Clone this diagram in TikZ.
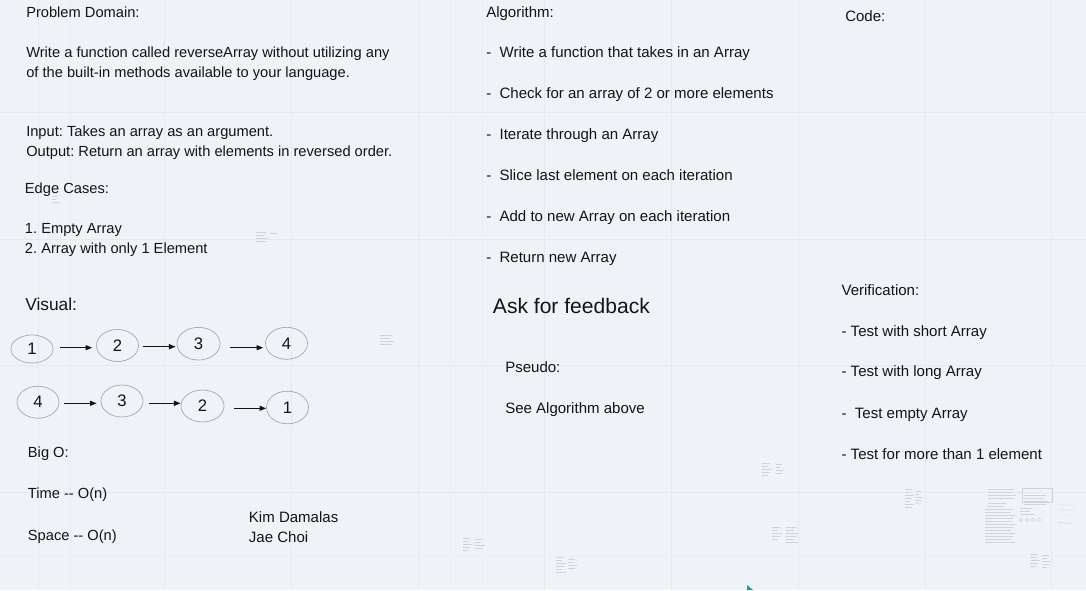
\documentclass[tikz,border=0pt]{standalone}
\usepackage{fontspec}
\setmainfont{Liberation Sans}
\usetikzlibrary{shapes.geometric,arrows.meta,calc}
\definecolor{bgc}{RGB}{239,242,247}
\definecolor{gridc}{RGB}{229,233,239}
\definecolor{gridm}{RGB}{234,237,243}
\definecolor{ink}{RGB}{20,20,20}
\definecolor{ellc}{RGB}{165,165,168}
\definecolor{smudgec}{RGB}{207,211,218}
\definecolor{cursorc}{RGB}{20,160,150}
\tikzset{
  txt/.style={anchor=base west, inner sep=0pt, text=ink, font=\fontsize{11pt}{13pt}\selectfont\frenchspacing},
  txtb/.style={txt, font=\fontsize{11.27pt}{13pt}\selectfont\frenchspacing},
  bigtxt/.style={txt, font=\fontsize{13pt}{15pt}\selectfont\frenchspacing},
  hugetxt/.style={txt, font=\fontsize{15.8pt}{18pt}\selectfont\frenchspacing},
  cell/.style={ellipse, draw=ellc, line width=0.5pt, inner sep=0pt, minimum width=31.5pt, minimum height=24pt, text=ink, font=\fontsize{12.5pt}{14pt}\selectfont},
  arr/.style={draw=ink, line width=0.8pt, -{Triangle[length=5pt,width=3.8pt]}},
  gridline/.style={draw=gridc, line width=0.6pt},
  minorline/.style={draw=gridm, line width=0.5pt},
  smudge/.style={draw=smudgec, line width=0.35pt},
}
\begin{document}
\begin{tikzpicture}[x=0.75pt,y=-0.75pt]
\useasboundingbox (0,0) rectangle (1086,590);
\fill[bgc] (0,0) rectangle (1086,590);
% grid
\foreach \gx in {70,450,482} { \draw[minorline] (\gx,0) -- (\gx,590); }
\draw[minorline] (0,556) -- (1086,556);
\foreach \gx in {38,164.7,291.4,418.1,544.8,671.5,798.2,924.9,1051.6} { \draw[gridline] (\gx,0) -- (\gx,590); }
\foreach \gy in {112.5,239,365.5,492} { \draw[gridline] (0,\gy) -- (1086,\gy); }

% faint thumbnails
\foreach \sx/\sy/\sw/\sn in {52/193/8/3, 256/229/12/4, 270/230/9/1, 380/332/14/4, 762/460/10/5, 776/461/8/4, 905/486/9/7, 916/488/7/5, 772/524/10/5, 786/524/12/6, 463/535/9/5, 475/536/10/4, 556/554/10/6, 568/556/9/4, 988/486/28/4, 988/500/20/2, 985/506/30/12, 1030/551/10/5, 1042/552/9/5, 1024/492/24/4, 1020/505/14/3}
{ \foreach \i in {1,...,\sn} { \draw[smudge] (\sx,{\sy+3*\i}) -- ++({\sw-mod(\i,3)*2},0); } }
\draw[smudge] (1022,488) rectangle (1052,502);
\foreach \cx in {1021,1027,1033,1039} { \draw[smudge] (\cx,520) circle (1.8); }
\draw[smudge] (1058,505) -- (1075,505) (1060,510) -- (1073,510) (1062,515) -- (1071,515) (1058,522) -- (1072,524);
\fill[cursorc] (747,585) -- (747,590) -- (753,590) -- cycle;

% left column texts
\node[txt] (pd)  at (26,17.5)  {Problem Domain:};
\node[txt] (pd1) at (26,57.3)  {Write a function called reverseArray without utilizing any};
\node[txt] (pd2) at (26,77.3)  {of the built-in methods available to your language.};
\node[txt] (inp) at (26,136.7) {Input: Takes an array as an argument.};
\node[txt] (outp) at (26,156.7) {Output: Return an array with elements in reversed order.};
\node[txt] (edge) at (24.7,193.3) {Edge Cases:};
\node[txt] (ec1) at (24.7,233.3) {1. Empty Array};
\node[txt] (ec2) at (24.7,253.3) {2. Array with only 1 Element};
\node[bigtxt] (vis) at (25,310) {Visual:};
\node[txt] (bigo) at (27.7,457.3) {Big O:};
\node[txt] (time) at (27.7,498.3) {Time -{}- O(n)};
\node[txt] (spc) at (27.7,540) {Space -{}- O(n)};
\node[txtb] (kim) at (248.7,522.3) {Kim Damalas};
\node[txtb] (jae) at (248.7,542.3) {Jae Choi};

% algorithm column
\node[txtb] (alg) at (486,17) {Algorithm:};
\node[txtb] (s1) at (486,57.3)  {-\ \ Write a function that takes in an Array};
\node[txtb] (s2) at (486,98.3)  {-\ \ Check for an array of 2 or more elements};
\node[txtb] (s3) at (486,139.3) {-\ \ Iterate through an Array};
\node[txtb] (s4) at (486,180)   {-\ \ Slice last element on each iteration};
\node[txtb] (s5) at (486,221.3) {-\ \ Add to new Array on each iteration};
\node[txtb] (s6) at (486,262.3) {-\ \ Return new Array};
\node[hugetxt] (ask) at (492.7,313.3) {Ask for feedback};
\node[txtb] (pseudo) at (505,372.3) {Pseudo:};
\node[txtb] (see) at (505,413.3) {See Algorithm above};

% right column
\node[txtb] (code) at (845,21) {Code:};
\node[txtb] (ver) at (841.3,295) {Verification:};
\node[txtb] (v1) at (841.3,336)   {- Test with short Array};
\node[txtb] (v2) at (841.3,376.7) {- Test with long Array};
\node[txtb] (v3) at (841.3,418.3) {-\ \ Test empty Array};
\node[txtb] (v4) at (841.3,459)   {- Test for more than 1 element};

% visual: first row
\node[cell, minimum height=21pt] (e1) at (32,349) {1};
\node[cell] (e2) at (117.5,345.5) {2};
\node[cell, minimum width=32.3pt, minimum height=24.5pt] (e3) at (198.5,343.7) {3};
\node[cell] (e4) at (286.5,343.3) {4};
% second row
\node[cell] (f1) at (38,402.2) {4};
\node[cell] (f2) at (122,401) {3};
\node[cell, minimum width=32.3pt] (f3) at (202.5,406) {2};
\node[cell, minimum height=24.5pt] (f4) at (287.5,407.5) {1};

\coordinate (a1s) at ($(e1.east)+(7,-1.3)$);
\coordinate (a1e) at ($(e2.west)+(-4,0)$);
\draw[arr] (a1s) -- (a1s -| a1e);
\coordinate (a2s) at ($(e2.east)+(4,1.2)$);
\coordinate (a2e) at ($(e3.west)+(-1,0)$);
\draw[arr] (a2s) -- (a2s -| a2e);
\coordinate (a3s) at ($(e3.east)+(10,4.0)$);
\coordinate (a3e) at ($(e4.west)+(-2,0)$);
\draw[arr] (a3s) -- (a3s -| a3e);

\coordinate (b1s) at ($(f1.east)+(5,1.1)$);
\coordinate (b1e) at ($(f2.west)+(-4,0)$);
\draw[arr] (b1s) -- (b1s -| b1e);
\coordinate (b2s) at ($(f2.east)+(6,2.3)$);
\coordinate (b2e) at ($(f3.west)+(0,0)$);
\draw[arr] (b2s) -- (b2s -| b2e);
\coordinate (b3s) at ($(f3.east)+(10,2.3)$);
\coordinate (b3e) at ($(f4.west)+(0,0)$);
\draw[arr] (b3s) -- (b3s -| b3e);
\end{tikzpicture}
\end{document}
